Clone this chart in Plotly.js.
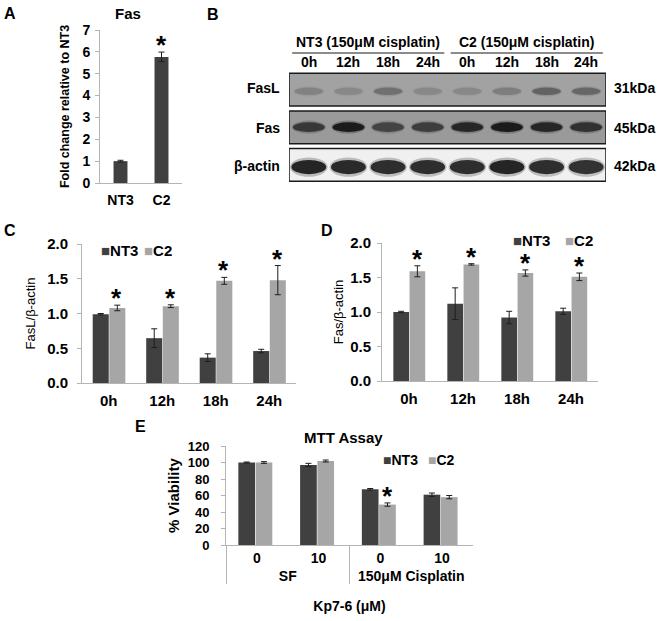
<!DOCTYPE html>
<html><head><meta charset="utf-8">
<script src="https://cdn.plot.ly/plotly-3.0.1.min.js"></script>
<style>html,body{margin:0;padding:0;background:#fff}#chart{width:664px;height:621px}</style>
</head><body><div id="chart"></div>
<script>
// ---------- Panel A ----------
const aCategories = ['NT3', 'C2'];
const aValues = [1.0, 5.77];
const aErrors = [0.04, 0.22];
const aSignificant = [false, true];

// ---------- Panel B (western blot) ----------
const blotLanes = ['0h', '12h', '18h', '24h', '0h', '12h', '18h', '24h'];
const blotGroups = ['NT3 (150μM cisplatin)', 'C2 (150μM cisplatin)'];
const blotProteins = ['FasL', 'Fas', 'β-actin'];
const blotSizes = ['31kDa', '45kDa', '42kDa'];
const fasLIntensity = [0.25, 0.2, 0.42, 0.2, 0.2, 0.3, 0.55, 0.5];
const fasIntensity = [0.7, 0.95, 0.6, 0.65, 0.85, 0.95, 0.85, 0.75];
const actinIntensity = [0.95, 0.92, 0.9, 0.9, 0.9, 0.95, 0.9, 0.88];

// ---------- Panel C ----------
const timepoints = ['0h', '12h', '18h', '24h'];
const cNT3 = [0.99, 0.645, 0.365, 0.46];
const cNT3Err = [0.01, 0.135, 0.055, 0.025];
const cC2 = [1.08, 1.105, 1.47, 1.48];
const cC2Err = [0.04, 0.02, 0.05, 0.21];
const cSignificant = [true, true, true, true];

// ---------- Panel D ----------
const dNT3 = [1.0, 1.12, 0.92, 1.01];
const dNT3Err = [0.01, 0.23, 0.09, 0.045];
const dC2 = [1.59, 1.69, 1.565, 1.51];
const dC2Err = [0.08, 0.01, 0.045, 0.055];
const dSignificant = [true, true, true, true];

// ---------- Panel E ----------
const eTreatment = ['SF', 'SF', '150μM Cisplatin', '150μM Cisplatin'];
const eDose = ['0', '10', '0', '10'];
const eNT3 = [100, 97, 67.5, 61];
const eNT3Err = [0.6, 2, 1, 2];
const eC2 = [100, 101.8, 49, 58];
const eC2Err = [1, 1.2, 2, 2];
const eSignificant = [false, false, true, false];

// ---------- styling helpers ----------
const W = 664, H = 621;
const F = 'Liberation Sans, Arial, sans-serif';
const NT3C = '#404040', C2C = '#a6a6a6', AX = '#b4b4b4', ERR = '#1e1e1e';
const xd = (a, b) => [a / W, b / W];
const yd = (top, bottom) => [1 - bottom / H, 1 - top / H];
const px = x => x / W;
const py = y => 1 - y / H;
const bold = (size) => ({family: F, size: size, color: '#000', weight: 'bold'});
const errBar = arr => ({type: 'data', array: arr, color: ERR, thickness: 1, width: 3, visible: true});

function yAxis(domain, anchor, range, dtick, fmt, size, standoff, titleText, titleFont, titleStandoff) {
  return {domain, anchor, range, dtick, tickformat: fmt, showline: true, linecolor: AX, linewidth: 1,
    ticks: 'outside', ticklen: 4, tickcolor: AX, showgrid: false, zeroline: false, fixedrange: true,
    tickfont: bold(size), ticklabelstandoff: standoff,
    title: {text: titleText, font: titleFont, standoff: titleStandoff}};
}
function xAxis(domain, anchor, range, size, standoff) {
  return {domain, anchor, range, showline: true, linecolor: AX, linewidth: 1, ticks: '', showgrid: false,
    zeroline: false, fixedrange: true, tickfont: bold(size), ticklabelstandoff: standoff};
}

const traces = [];
// A
traces.push({type: 'bar', x: aCategories, y: aValues, xaxis: 'x', yaxis: 'y', width: 0.34,
  marker: {color: NT3C}, error_y: errBar(aErrors), showlegend: false, hoverinfo: 'x+y'});
// C
traces.push({type: 'bar', name: 'NT3', x: timepoints, y: cNT3, xaxis: 'x2', yaxis: 'y2', offset: -0.30, width: 0.30,
  marker: {color: NT3C}, error_y: errBar(cNT3Err), showlegend: false});
traces.push({type: 'bar', name: 'C2', x: timepoints, y: cC2, xaxis: 'x2', yaxis: 'y2', offset: 0.01, width: 0.30,
  marker: {color: C2C}, error_y: errBar(cC2Err), showlegend: false});
// D
traces.push({type: 'bar', name: 'NT3', x: timepoints, y: dNT3, xaxis: 'x3', yaxis: 'y3', offset: -0.29, width: 0.29,
  marker: {color: NT3C}, error_y: errBar(dNT3Err), showlegend: false});
traces.push({type: 'bar', name: 'C2', x: timepoints, y: dC2, xaxis: 'x3', yaxis: 'y3', offset: 0.01, width: 0.29,
  marker: {color: C2C}, error_y: errBar(dC2Err), showlegend: false});
// E
traces.push({type: 'bar', name: 'NT3', x: [eTreatment, eDose], y: eNT3, xaxis: 'x4', yaxis: 'y4', offset: -0.30, width: 0.27,
  marker: {color: NT3C}, error_y: errBar(eNT3Err), showlegend: false});
traces.push({type: 'bar', name: 'C2', x: [eTreatment, eDose], y: eC2, xaxis: 'x4', yaxis: 'y4', offset: -0.02, width: 0.27,
  marker: {color: C2C}, error_y: errBar(eC2Err), showlegend: false});
// B: invisible anchor trace for blot axes
traces.push({type: 'scatter', mode: 'markers', x: blotLanes.map((_, i) => i + 0.5), y: blotLanes.map(() => 0),
  xaxis: 'x5', yaxis: 'y5', marker: {opacity: 0}, showlegend: false, hoverinfo: 'skip'});

const annotations = [];
const shapes = [];
function addText(text, x, y, size, opts) {
  annotations.push(Object.assign({text, x: px(x), y: py(y), xref: 'paper', yref: 'paper', showarrow: false,
    font: bold(size), xanchor: 'center', yanchor: 'middle'}, opts || {}));
}
// panel letters & titles
addText('A', 10, 14, 16); addText('B', 213, 15, 16); addText('C', 10, 230, 16);
addText('D', 327, 230, 16); addText('E', 140, 426, 16);
addText('Fas', 128, 14, 15);
addText('MTT Assay', 343, 437, 15);

// asterisks
function stars(sig, xs, vals, errs, xref, yref, shiftX) {
  sig.forEach((s, i) => {
    if (!s) return;
    annotations.push({text: '*', x: xs[i], y: vals[i] + errs[i], xref, yref, showarrow: false,
      font: bold(26), xanchor: 'center', yanchor: 'middle', xshift: shiftX, yshift: 7});
  });
}
stars(aSignificant, aCategories, aValues, aErrors, 'x', 'y', 0);
stars(cSignificant, timepoints, cC2, cC2Err, 'x2', 'y2', 8);
stars(dSignificant, timepoints, dC2, dC2Err, 'x3', 'y3', 8);
stars(eSignificant, [0, 1, 2, 3], eC2, eC2Err, 'x4', 'y4', 7);

// legends
function legendItem(color, label, x, y, size) {
  addText('<span style="color:' + color + '">■</span>' + label, x, y, size, {xanchor: 'left'});
}
legendItem(NT3C, 'NT3', 99, 250, 15); legendItem(C2C, 'C2', 142, 250, 15);
legendItem(NT3C, 'NT3', 511, 241, 15); legendItem(C2C, 'C2', 563, 241, 15);
legendItem(NT3C, 'NT3', 381, 460, 14); legendItem(C2C, 'C2', 426, 460, 14);

// ---------- blot ----------
const blotRows = [
  {data: fasLIntensity, fill: '#a2a2a2', cy: 0.54, hh: 0.10, hw: 0.36, rgb: '50,50,50'},
  {data: fasIntensity, fill: '#9a9a9a', cy: 1.49, hh: 0.13, hw: 0.40, rgb: '12,12,12'},
  {data: actinIntensity, fill: '#f0f0f0', cy: 2.55, hh: 0.19, hw: 0.44, rgb: '12,12,12'}
];
blotRows.forEach((row, r) => {
  shapes.push({type: 'rect', xref: 'x5', yref: 'y5', x0: 0, x1: 8, y0: r + 0.06, y1: r + 0.93,
    fillcolor: row.fill, line: {color: '#1a1a1a', width: 1.5}, layer: 'below'});
  row.data.forEach((v, i) => {
    const c = i + 0.5;
    shapes.push({type: 'circle', xref: 'x5', yref: 'y5', x0: c - row.hw * 1.08, x1: c + row.hw * 1.08,
      y0: row.cy - row.hh * 1.35, y1: row.cy + row.hh * 1.35, fillcolor: 'rgba(' + row.rgb + ',' + (v * 0.25).toFixed(3) + ')',
      line: {width: 0}, layer: 'below'});
    shapes.push({type: 'circle', xref: 'x5', yref: 'y5', x0: c - row.hw, x1: c + row.hw,
      y0: row.cy - row.hh, y1: row.cy + row.hh, fillcolor: 'rgba(' + row.rgb + ',' + (v * 0.9).toFixed(3) + ')',
      line: {width: 0}, layer: 'below'});
  });
  addText(blotProteins[r], 282, [88, 128, 166][r], 14, {xanchor: 'right'});
  addText(blotSizes[r], 612, [88, 128, 166][r], 14, {xanchor: 'left'});
});
blotLanes.forEach((l, i) => {
  annotations.push({text: l, x: i + 0.5, y: py(62), xref: 'x5', yref: 'paper', showarrow: false,
    font: bold(14), xanchor: 'center', yanchor: 'middle'});
});
blotGroups.forEach((g, k) => {
  annotations.push({text: g, x: 2 + 4 * k, y: py(42), xref: 'x5', yref: 'paper', showarrow: false,
    font: bold(14), xanchor: 'center', yanchor: 'middle'});
  shapes.push({type: 'line', xref: 'x5', yref: 'paper', x0: 4 * k + 0.08, x1: 4 * k + 3.92, y0: py(53), y1: py(53),
    line: {color: '#1a1a1a', width: 1.2}});
});

const layout = {
  width: W, height: H, margin: {l: 0, r: 0, t: 0, b: 0}, paper_bgcolor: '#fff', plot_bgcolor: 'rgba(0,0,0,0)',
  barmode: 'group', showlegend: false, font: {family: F, color: '#000'},
  xaxis: xAxis(xd(100, 182), 'y', [-0.5, 1.5], 14, 4),
  yaxis: yAxis(yd(30, 183), 'x', [0, 7], 1, 'd', 14, 2, 'Fold change relative to NT3', bold(12.5), 10),
  xaxis2: xAxis(xd(82, 296), 'y2', [-0.5, 3.5], 15, 4),
  yaxis2: yAxis(yd(244, 383), 'x2', [0, 2], 0.5, '.1f', 15, 6, 'FasL/β-actin', {family: F, size: 13, color: '#000'}, 8),
  xaxis3: xAxis(xd(382, 598), 'y3', [-0.5, 3.5], 15, 4),
  yaxis3: yAxis(yd(243, 381), 'x3', [0, 2], 0.5, '.1f', 15, 3, 'Fas/β-actin', {family: F, size: 13, color: '#000'}, 3),
  xaxis4: Object.assign(xAxis(xd(226, 473), 'y4', [-0.5, 3.5], 14, 0),
    {showdividers: true, dividercolor: AX, dividerwidth: 1,
     title: {text: 'Kp7-6 (μM)', font: bold(14), standoff: 18}}),
  yaxis4: yAxis(yd(446, 545), 'x4', [0, 120], 20, 'd', 13, 9, '% Viability', bold(15), 4),
  xaxis5: {domain: xd(289, 606), anchor: 'y5', range: [0, 8], visible: false, fixedrange: true},
  yaxis5: {domain: yd(71, 184), anchor: 'x5', range: [3, 0], visible: false, fixedrange: true},
  annotations, shapes
};

Plotly.newPlot('chart', traces, layout, {staticPlot: true, displayModeBar: false});
</script></body></html>
